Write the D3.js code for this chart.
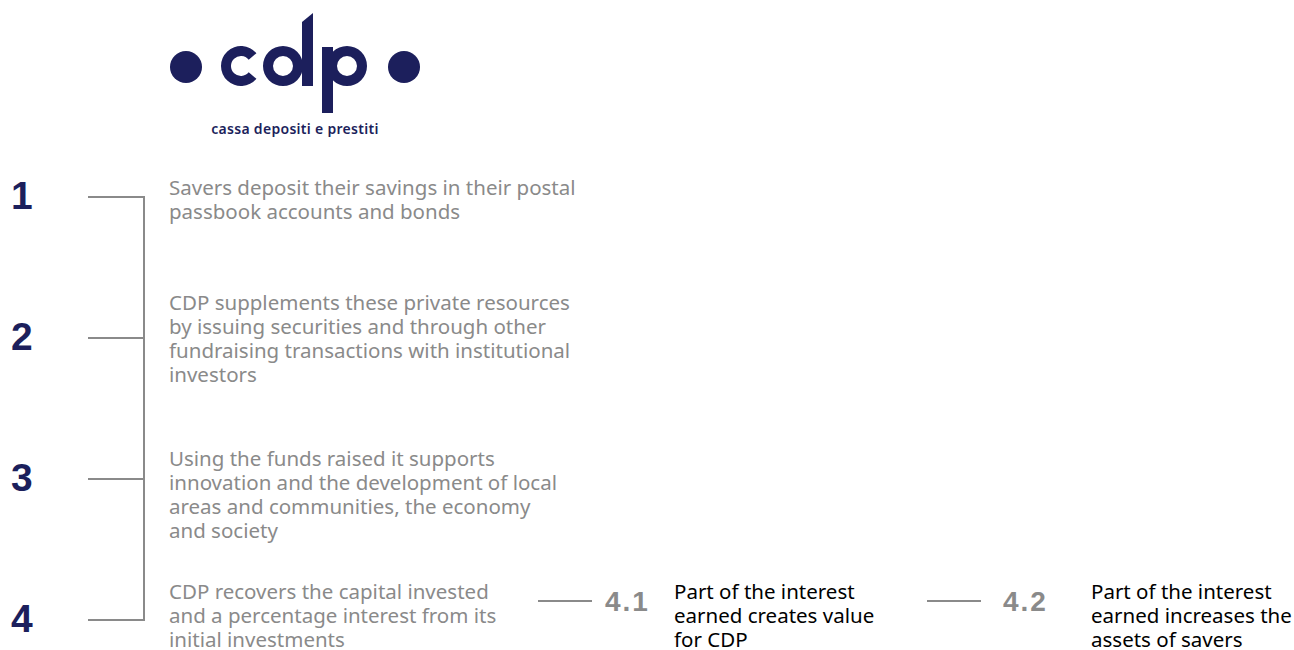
<!DOCTYPE html>
<html>
<head>
<meta charset="utf-8">
<script src="https://cdn.jsdelivr.net/npm/d3@7"></script>
<style>
  body { margin: 0; background: #fff; }
  svg { display: block; font-family: "Noto Sans", sans-serif; }
</style>
</head>
<body>
<svg id="chart"></svg>
<script>
// Steps of the CDP model
const stepNumbers = ['1', '2', '3', '4'];
const stepTexts = [
  ['Savers deposit their savings in their postal', 'passbook accounts and bonds'],
  ['CDP supplements these private resources', 'by issuing securities and through other', 'fundraising transactions with institutional', 'investors'],
  ['Using the funds raised it supports', 'innovation and the development of local', 'areas and communities, the economy', 'and society'],
  ['CDP recovers the capital invested', 'and a percentage interest from its', 'initial investments']
];
// Sub-steps of step 4
const subNumbers = ['4.1', '4.2'];
const subTexts = [
  ['Part of the interest', 'earned creates value', 'for CDP'],
  ['Part of the interest', 'earned increases the', 'assets of savers']
];

const W = 1294, H = 650;
const navy = '#1c1f5c', grey = '#8a8a8a';

const svg = d3.select('#chart').attr('width', W).attr('height', H);

// Logo
const logo = svg.append('g').attr('class', 'logo');
logo.append('circle').attr('cx', 186).attr('cy', 67).attr('r', 16).attr('fill', navy);
logo.append('circle').attr('cx', 404).attr('cy', 67).attr('r', 16).attr('fill', navy);
const ringArc = d3.arc().innerRadius(10).outerRadius(20);
logo.append('path')
  .attr('transform', 'translate(241,66)')
  .attr('d', ringArc({ startAngle: Math.PI * 0.72, endAngle: Math.PI * 2.28 }))
  .attr('fill', navy);
logo.append('path')
  .attr('transform', 'translate(283,66)')
  .attr('d', ringArc({ startAngle: 0, endAngle: Math.PI * 2 }))
  .attr('fill', navy);
logo.append('path').attr('d', 'M302,22 L313,13 L313,86 L302,86 Z').attr('fill', navy);
logo.append('path')
  .attr('transform', 'translate(347,66)')
  .attr('d', ringArc({ startAngle: 0, endAngle: Math.PI * 2 }))
  .attr('fill', navy);
logo.append('rect').attr('x', 322).attr('y', 47).attr('width', 11).attr('height', 66).attr('fill', navy);
logo.append('text')
  .attr('x', 295).attr('y', 134)
  .attr('text-anchor', 'middle')
  .attr('font-size', 14).attr('font-weight', 600)
  .attr('letter-spacing', 0.3)
  .attr('fill', navy)
  .text('cassa depositi e prestiti');

// Vertical bracket positions
const y = d3.scalePoint().domain(stepNumbers).range([197, 620]);
const lineH = 24;

svg.append('line')
  .attr('x1', 144).attr('x2', 144)
  .attr('y1', y(stepNumbers[0]) - 1).attr('y2', y(stepNumbers[stepNumbers.length - 1]) + 1)
  .attr('stroke', grey).attr('stroke-width', 2);

const step = svg.selectAll('.step')
  .data(stepNumbers)
  .enter().append('g')
  .attr('class', 'step');

step.append('line')
  .attr('x1', 88).attr('x2', 145)
  .attr('y1', d => y(d)).attr('y2', d => y(d))
  .attr('stroke', grey).attr('stroke-width', 2);

step.append('text')
  .attr('x', 11).attr('y', d => y(d) + 12)
  .attr('font-family', '"Liberation Sans", Arial, sans-serif')
  .attr('font-size', 39).attr('font-weight', 700)
  .attr('fill', navy)
  .text(d => d);

// first-line baseline relative to the bracket tick
const offsets = [-2, -28, -13, -21];
step.append('text')
  .attr('font-size', 20.5).attr('fill', grey)
  .selectAll('tspan')
  .data((d, i) => stepTexts[i].map(t => ({ t, i })))
  .enter().append('tspan')
  .attr('x', 169)
  .attr('y', (d, j) => y(stepNumbers[d.i]) + offsets[d.i] + j * lineH)
  .text(d => d.t);

// Sub-steps
const x = d3.scalePoint().domain(subNumbers).range([538, 927]);
const subY = y('4') - 21;

const sub = svg.selectAll('.sub')
  .data(subNumbers)
  .enter().append('g')
  .attr('class', 'sub');

sub.append('line')
  .attr('x1', d => x(d)).attr('x2', d => x(d) + 54)
  .attr('y1', subY + 2).attr('y2', subY + 2)
  .attr('stroke', grey).attr('stroke-width', 2);

sub.append('text')
  .attr('x', (d, i) => x(d) + (i === 0 ? 67 : 76))
  .attr('y', subY + 12)
  .attr('font-family', '"Liberation Sans", Arial, sans-serif')
  .attr('font-size', 28).attr('font-weight', 700)
  .attr('letter-spacing', 2)
  .attr('fill', grey)
  .text(d => d);

sub.append('text')
  .attr('font-size', 20.5).attr('fill', '#000')
  .selectAll('tspan')
  .data((d, i) => subTexts[i].map(t => ({ t, d, i })))
  .enter().append('tspan')
  .attr('x', d => x(d.d) + (d.i === 0 ? 136 : 164))
  .attr('y', (d, j) => subY + j * lineH)
  .text(d => d.t);
</script>
</body>
</html>
